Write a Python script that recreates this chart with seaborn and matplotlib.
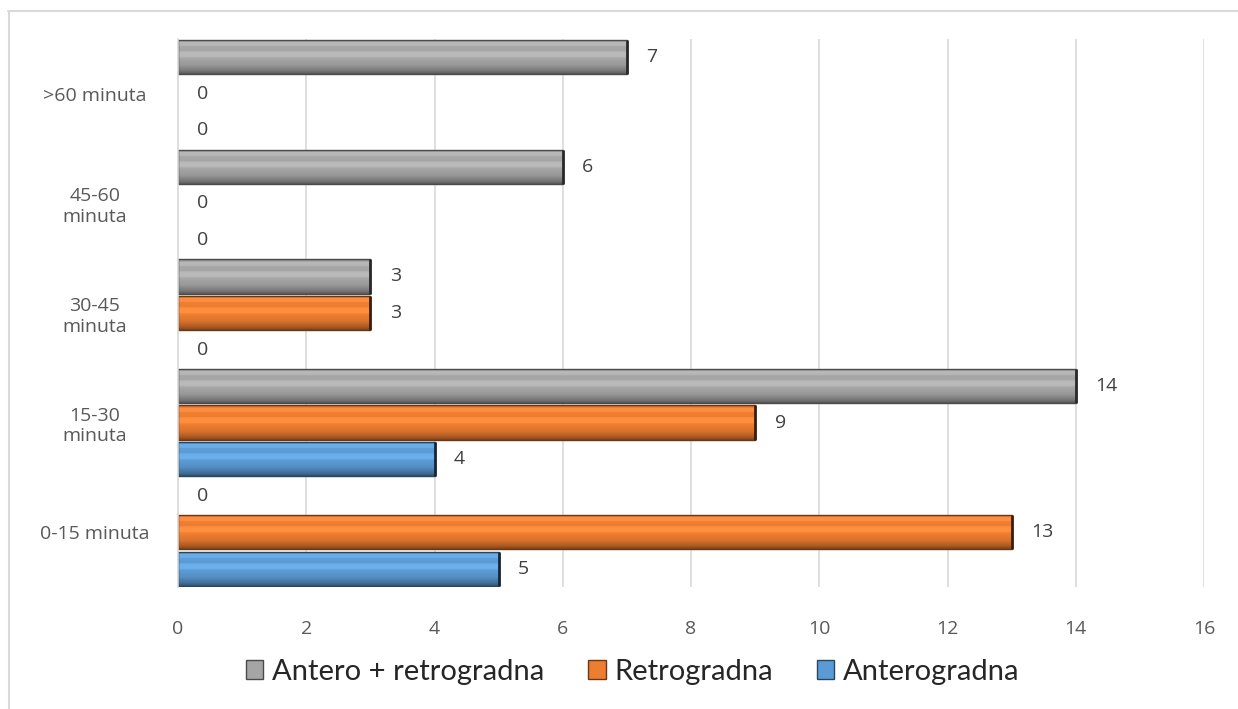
import numpy as np
import pandas as pd
import matplotlib
matplotlib.use("Agg")
import matplotlib.pyplot as plt
import matplotlib.colors as mcolors
from matplotlib.lines import Line2D
from matplotlib.patches import Patch
import seaborn as sns

categories = [">60 minuta", "45-60\nminuta", "30-45\nminuta", "15-30\nminuta", "0-15 minuta"]
series = ["Antero + retrogradna", "Retrogradna", "Anterogradna"]
antero_retro = [7, 6, 3, 14, 0]
retrogradna = [0, 0, 3, 9, 13]
anterogradna = [0, 0, 0, 4, 5]
x_ticks = [0, 2, 4, 6, 8, 10, 12, 14, 16]
colors = ["#A5A5A5", "#ED7D31", "#5B9BD5"]

rows = []
for s, vals in zip(series, [antero_retro, retrogradna, anterogradna]):
    for c, v in zip(categories, vals):
        rows.append({"cat": c, "series": s, "value": v})
df = pd.DataFrame(rows)

sns.set_theme(style="white")
plt.rcParams["font.family"] = ["Open Sans", "DejaVu Sans"]

fig = plt.figure(figsize=(12.38, 7.09), dpi=100)
ax = fig.add_axes([178/1238, 1-587/709, (1204-178)/1238, (587-39)/709])

sns.barplot(data=df, y="cat", x="value", hue="series", order=categories,
            hue_order=series, palette=colors, orient="y", width=1.0,
            ax=ax, legend=False, saturation=1.0)

ax.set_xlim(0, 16)
ax.set_ylim(4.5, -0.5)
ax.set_xticks(x_ticks)
ax.set_xlabel("")
ax.set_ylabel("")
ax.tick_params(axis="both", length=0, labelsize=14, labelcolor="#595959")
ax.tick_params(axis="x", pad=24)
for lbl in ax.get_yticklabels():
    lbl.set_horizontalalignment("center")
    lbl.set_multialignment("center")
ax.tick_params(axis="y", pad=60)
ax.grid(axis="x", color="#D9D9D9", linewidth=1.2)
ax.set_axisbelow(True)
for sp in ["top", "right", "bottom"]:
    ax.spines[sp].set_visible(False)
ax.spines["left"].set_color("#D9D9D9")
ax.spines["left"].set_linewidth(1.2)

# bevel-like shading on the bars
for patch in list(ax.patches):
    x0, y0 = patch.get_x(), patch.get_y()
    w, h = patch.get_width(), patch.get_height()
    base = np.array(mcolors.to_rgb(patch.get_facecolor()))
    gap = h * 0.03
    y0 += gap
    h -= 2 * gap
    patch.set_y(y0)
    patch.set_height(h)
    if w <= 0:
        continue
    t = np.linspace(0, 1, 40)
    fac = np.interp(t, [0, 0.08, 0.3, 0.45, 0.75, 0.92, 1.0],
                    [0.8, 1.04, 1.0, 1.06, 0.92, 0.72, 0.55])
    grad = np.clip(base[None, :] * fac[:, None] + (fac[:, None] > 1.02) * 0.05, 0, 1)
    img = grad[:, None, :]
    im = ax.imshow(img, extent=[x0, x0 + w, y0 + h, y0], aspect="auto",
                   zorder=patch.get_zorder() + 0.1, interpolation="bilinear")
    im.set_clip_path(patch)
    edge = base * 0.45
    ax.add_patch(plt.Rectangle((x0, y0), w, h, fill=False, edgecolor=edge,
                               linewidth=1.0, zorder=patch.get_zorder() + 0.2))
    ax.plot([x0 + w, x0 + w], [y0, y0 + h], color=base * 0.25, linewidth=2.0,
            zorder=patch.get_zorder() + 0.3, solid_capstyle="butt")

ax.set_xlim(0, 16)
ax.set_ylim(4.5, -0.5)

# data labels
for container in ax.containers:
    ax.bar_label(container, labels=[f"{int(v)}" for v in container.datavalues],
                 padding=14, fontsize=14, color="#404040")

# legend
handles = [Patch(facecolor=c, edgecolor=tuple(np.array(mcolors.to_rgb(c)) * 0.45)) for c in colors]
fig.legend(handles, series, loc="center", bbox_to_anchor=(0.511, 1 - 672/709),
           ncol=3, frameon=False, handlelength=0.6, handleheight=0.6,
           handletextpad=0.3, columnspacing=1.5,
           prop={"family": ["Lato", "DejaVu Sans"], "size": 21})

# chart border
fig.add_artist(Line2D([8/1238, 1.0], [1 - 11/709, 1 - 11/709], transform=fig.transFigure,
                      color="#D9D9D9", linewidth=1.5))
fig.add_artist(Line2D([8.5/1238, 8.5/1238], [0, 1 - 11/709], transform=fig.transFigure,
                      color="#D9D9D9", linewidth=1.5))

fig.savefig("out.png", dpi=100, facecolor="white")
